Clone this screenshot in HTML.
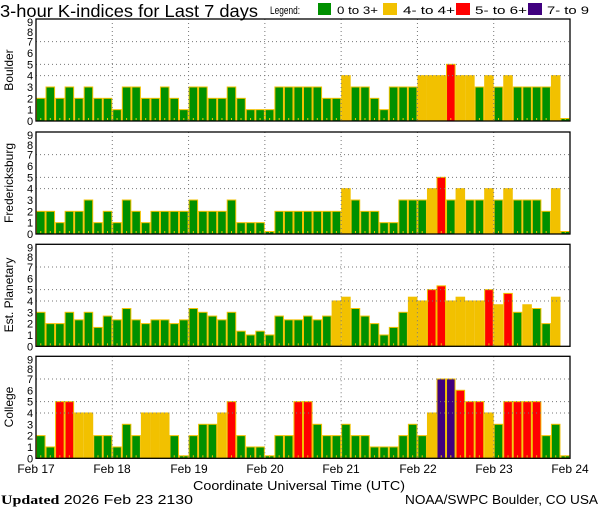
<!DOCTYPE html>
<html><head><meta charset="utf-8">
<style>
html,body{margin:0;padding:0;background:#fff;}
svg{display:block;}
text{font-family:"Liberation Sans",sans-serif;fill:#000;}
</style></head>
<body>
<svg id="s" width="600" height="510" viewBox="0 0 600 510" xmlns="http://www.w3.org/2000/svg">
<rect width="600" height="510" fill="#fff"/>
<text x="0" y="17" font-size="17.5" textLength="258" lengthAdjust="spacingAndGlyphs">3-hour K-indices for Last 7 days</text>
<text x="270" y="14" font-size="11" textLength="30" lengthAdjust="spacingAndGlyphs">Legend:</text>
<rect x="318" y="3" width="13" height="12" fill="#009000"/>
<text x="337" y="14" font-size="11" textLength="41" lengthAdjust="spacingAndGlyphs">0 to 3+</text>
<rect x="383" y="3" width="14" height="12" fill="#f2c100"/>
<text x="403" y="14" font-size="11" textLength="52" lengthAdjust="spacingAndGlyphs">4- to 4+</text>
<rect x="456" y="3" width="14" height="12" fill="#ff0000"/>
<text x="475" y="14" font-size="11" textLength="52" lengthAdjust="spacingAndGlyphs">5- to 6+</text>
<rect x="528" y="3" width="14" height="12" fill="#40007f"/>
<text x="547" y="14" font-size="11" textLength="42" lengthAdjust="spacingAndGlyphs">7- to 9</text>
<g id="panels"></g>
<g font-size="12" text-anchor="middle">
<text x="36" y="473">Feb 17</text>
<text x="112" y="473">Feb 18</text>
<text x="189" y="473">Feb 19</text>
<text x="265" y="473">Feb 20</text>
<text x="341" y="473">Feb 21</text>
<text x="418" y="473">Feb 22</text>
<text x="494" y="473">Feb 23</text>
<text x="570" y="473">Feb 24</text>
</g>
<text x="193" y="490" font-size="13" textLength="212" lengthAdjust="spacingAndGlyphs">Coordinate Universal Time (UTC)</text>
<text x="1" y="504" font-size="13" textLength="192" lengthAdjust="spacingAndGlyphs"><tspan font-weight="bold" font-family="Liberation Serif,serif">Updated</tspan> 2026 Feb 23 2130</text>
<text x="405" y="504" font-size="13" textLength="193" lengthAdjust="spacingAndGlyphs">NOAA/SWPC Boulder, CO USA</text>
<g font-size="12" text-anchor="middle">
<text transform="translate(13,70) rotate(-90)">Boulder</text>
<text transform="translate(13,183) rotate(-90)">Fredericksburg</text>
<text transform="translate(13,295) rotate(-90)">Est. Planetary</text>
<text transform="translate(13,407) rotate(-90)">College</text>
</g>
<g id="ylab" font-size="11" text-anchor="middle">
</g>
</svg>
<script>
(function(){
var NS="http://www.w3.org/2000/svg";
function el(p,t,a){var e=document.createElementNS(NS,t);for(var k in a)e.setAttribute(k,a[k]);p.appendChild(e);return e;}
var t3=1/3;
var data=[
[2,3,2,3,2,3,2,2, 1,3,3,2,2,3,2,1, 3,3,2,2,3,2,1,1, 1,3,3,3,3,3,2,2, 4,3,3,2,1,3,3,3, 4,4,4,5,4,4,3,4, 3,4,3,3,3,3,4,0],
[2,2,1,2,2,3,1,2, 1,3,2,1,2,2,2,2, 3,2,2,2,3,1,1,1, 0,2,2,2,2,2,2,2, 4,3,2,2,1,1,3,3, 3,4,5,3,4,3,3,4, 3,4,3,3,3,2,4,0],
[3,2,2,3,2+t3,3,2-t3,3-t3, 2+t3,3+t3,2+t3,2,2+t3,2+t3,2,2+t3, 3+t3,3,3-t3,2+t3,3,1+t3,1,1+t3, 1,3-t3,2+t3,2+t3,3-t3,2+t3,3-t3,4, 4+t3,3+t3,3-t3,2,1,2-t3,3,4+t3, 4,5,5+t3,4,4+t3,4,4,5, 4-t3,5-t3,3,4-t3,3+t3,2,4+t3,-1],
[2,1,5,5,4,4,2,2, 1,3,2,4,4,4,2,0, 2,3,3,4,5,2,1,1, 0,2,2,5,5,3,2,2, 3,2,2,1,1,1,2,3, 2,4,7,7,6,5,5,4, 3,5,5,5,5,2,3,0]
];
var tops=[19,132,244.3,356.3],H=102,X0=36,X1=570,bw=(X1-X0)/56,u=H/9;
var g=document.getElementById('panels'),yl=document.getElementById('ylab');
function col(v){return v<3.5?"#009000":v<4.5?"#f2c100":v<6.5?"#ff0000":"#40007f";}
for(var p=0;p<4;p++){
 var tp=tops[p],bt=tp+H;
 for(var i=0;i<56;i++){
  var v=data[p][i];if(v<0)continue;
  var h=v==0?2.5:v*u;
  el(g,'rect',{x:X0+i*bw+0.5,y:bt-h,width:bw-1,height:h,fill:col(v),stroke:"#f2c100","stroke-width":1});
  el(g,'rect',{x:X0+i*bw+bw/2-0.5,y:bt-3,width:1,height:2,fill:"#f2c100"});
 }
 [4,5,7].forEach(function(k){var y=bt-k*u;el(g,'line',{x1:X0,x2:X1,y1:y,y2:y,stroke:"#777","stroke-width":1,"stroke-dasharray":"1,3"});});
 for(var d=1;d<7;d++){var x=X0+d*(X1-X0)/7;el(g,'line',{x1:x,x2:x,y1:tp,y2:bt,stroke:"#777","stroke-width":1,"stroke-dasharray":"1,3"});}
 el(g,'rect',{x:X0,y:tp,width:X1-X0,height:H,fill:"none",stroke:"#000","stroke-width":1.3});
 for(var k=0;k<=9;k++){var y=bt-k*u;if(k==9)y=tp+3;if(k==8)y=bt-8*u+1.5;var t=el(yl,'text',{x:30,y:y+4});t.textContent=k;}
}
})();
</script>
</body></html>
